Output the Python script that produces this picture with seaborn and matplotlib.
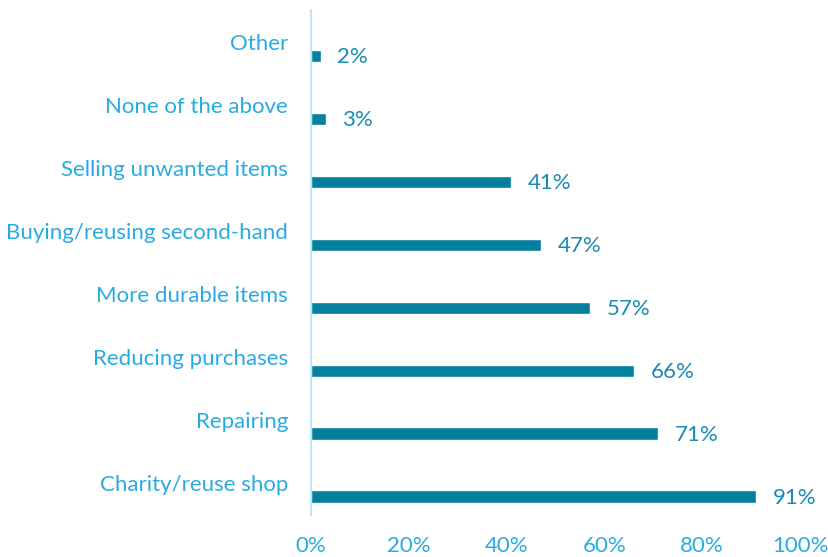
import matplotlib
matplotlib.use("Agg")
import matplotlib.pyplot as plt
import matplotlib.transforms as mtransforms
import seaborn as sns
import pandas as pd

# data, top to bottom as shown
categories = ["Other", "None of the above", "Selling unwanted items",
              "Buying/reusing second-hand", "More durable items",
              "Reducing purchases", "Repairing", "Charity/reuse shop"]
shares = [0.02, 0.03, 0.41, 0.47, 0.57, 0.66, 0.71, 0.91]
x_ticks = [0, 0.2, 0.4, 0.6, 0.8, 1.0]
x_tick_labels = ["0%", "20%", "40%", "60%", "80%", "100%"]

bar_color = "#04809f"
label_color = "#29abe2"
value_color = "#1a8ab5"
axis_color = "#bfe6f5"

sns.set_style("white")
plt.rcParams["font.family"] = ["Lato", "DejaVu Sans"]

df = pd.DataFrame({"category": categories, "share": shares})

fig = plt.figure(figsize=(8.29, 5.57), dpi=100)
ax = fig.add_axes([0.375, 0.0754, 0.590, 0.9066])

sns.barplot(data=df, x="share", y="category", order=categories,
            color=bar_color, saturation=1, width=0.2, ax=ax)

ax.set_xlim(0, 1)
ax.set_ylim(7.29, -0.73)
ax.set_xticks(x_ticks)
ax.set_xticklabels(x_tick_labels)
ax.set_xlabel("")
ax.set_ylabel("")

for s in ["top", "right", "bottom"]:
    ax.spines[s].set_visible(False)
ax.spines["left"].set_color(axis_color)
ax.spines["left"].set_linewidth(1.5)

ax.tick_params(axis="x", length=0, labelsize=16, labelcolor=label_color, pad=15)
ax.tick_params(axis="y", length=0, labelsize=16, labelcolor=label_color, pad=16.5)

# category labels sit above their bars
shift = mtransforms.ScaledTranslation(0, 14 / 100, fig.dpi_scale_trans)
for lab in ax.get_yticklabels():
    lab.set_transform(lab.get_transform() + shift)

for i, v in enumerate(shares):
    ax.annotate(f"{v:.0%}", xy=(v, i), xytext=(12, -1), textcoords="offset points",
                va="center", ha="left", fontsize=16, color=value_color)

fig.savefig("out.png", dpi=100)
